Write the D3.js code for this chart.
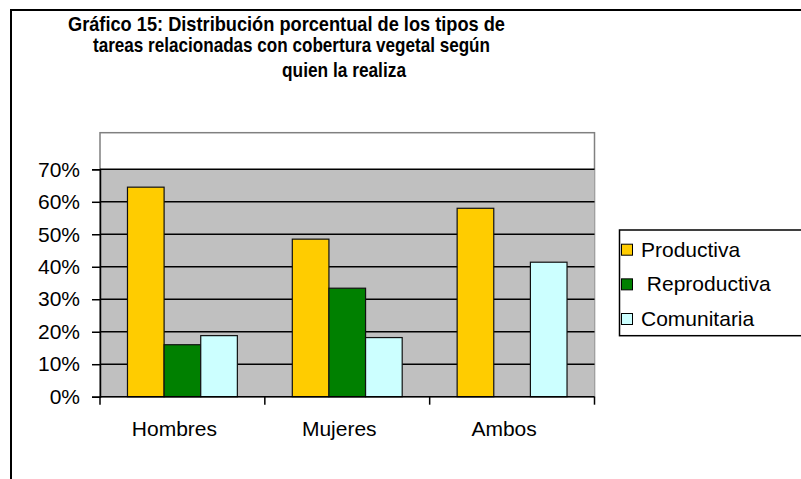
<!DOCTYPE html>
<html>
<head>
<meta charset="utf-8">
<script src="https://cdn.jsdelivr.net/npm/d3@7"></script>
<style>
  body { margin: 0; background: #fff; }
  svg { display: block; font-family: "Liberation Sans", Arial, sans-serif; }
</style>
</head>
<body>
<div id="chart"></div>
<script>
// data
const categories = ["Hombres", "Mujeres", "Ambos"];
const seriesNames = ["Productiva", " Reproductiva", "Comunitaria"];
const productiva = [0.645, 0.485, 0.58];
const reproductiva = [0.16, 0.334, 0];
const comunitaria = [0.188, 0.182, 0.414];
const yTicks = [0, 0.1, 0.2, 0.3, 0.4, 0.5, 0.6, 0.7];
const titleLines = [
  "Gráfico 15: Distribución porcentual de los tipos de",
  "tareas relacionadas con cobertura vegetal según",
  "quien la realiza"
];

const colors = ["#ffcc00", "#008000", "#ccffff"];
const series = [productiva, reproductiva, comunitaria];

const W = 801, H = 479;
let svg = d3.select("#chart").append("svg")
  .attr("width", W)
  .attr("height", H);

// outer frame (runs off the right and bottom edges)
svg.append("rect")
  .attr("x", 11).attr("y", 10)
  .attr("width", 900).attr("height", 600)
  .attr("fill", "#fff")
  .attr("stroke", "#000")
  .attr("stroke-width", 2);

// title, condensed bold; each line squeezed to the width seen in the picture
let titlePos = [
  {x: 68, y: 31, w: 437, anchor: "start"},
  {x: 93, y: 52, w: 397, anchor: "start"},
  {x: 344, y: 77, w: 124, anchor: "middle"}
];
titleLines.forEach(function(t, i) {
  svg.append("text")
    .attr("x", titlePos[i].x)
    .attr("y", titlePos[i].y)
    .attr("text-anchor", titlePos[i].anchor)
    .attr("font-size", 21)
    .attr("font-weight", "bold")
    .attr("textLength", titlePos[i].w)
    .attr("lengthAdjust", "spacingAndGlyphs")
    .text(t);
});

let plot = {left: 100, right: 594.5, top: 132.7, bottom: 396.7};

let y = d3.scaleLinear().domain([0, 0.7]).range([plot.bottom, 169.3]);
let x0 = d3.scaleBand().domain(categories).range([plot.left, plot.right]);
let x1 = d3.scaleBand().domain(d3.range(series.length))
  .range([0, x0.bandwidth()])
  .paddingOuter(0.75)
  .paddingInner(0);

// plot area box
svg.append("rect")
  .attr("x", plot.left).attr("y", plot.top)
  .attr("width", plot.right - plot.left)
  .attr("height", plot.bottom - plot.top)
  .attr("fill", "#fff")
  .attr("stroke", "#808080")
  .attr("stroke-width", 1.5);

// gray fill from 0 to the top tick
svg.append("rect")
  .attr("x", plot.left).attr("y", y(0.7))
  .attr("width", plot.right - plot.left)
  .attr("height", y(0) - y(0.7))
  .attr("fill", "#c0c0c0");

// gridlines
svg.append("g")
  .selectAll("line")
  .data(yTicks.slice(1))
  .join("line")
  .attr("x1", plot.left).attr("x2", plot.right)
  .attr("y1", function(d) { return y(d); })
  .attr("y2", function(d) { return y(d); })
  .attr("stroke", "#000")
  .attr("stroke-width", 1.5);

// bars
let groups = svg.append("g")
  .selectAll("g")
  .data(categories)
  .join("g")
  .attr("transform", function(d) { return "translate(" + x0(d) + ",0)"; });

groups.selectAll("rect")
  .data(function(d, ci) {
    return series.map(function(s, si) { return {si: si, v: s[ci]}; }).filter(function(e) { return e.v > 0; });
  })
  .join("rect")
  .attr("x", function(d) { return x1(d.si); })
  .attr("y", function(d) { return y(d.v); })
  .attr("width", x1.bandwidth())
  .attr("height", function(d) { return y(0) - y(d.v); })
  .attr("fill", function(d) { return colors[d.si]; })
  .attr("stroke", "#111")
  .attr("stroke-width", 1.2);

// y axis
let yAxis = d3.axisLeft(y)
  .tickValues(yTicks)
  .tickFormat(d3.format(".0%"))
  .tickSize(8)
  .tickPadding(12);

let gy = svg.append("g")
  .attr("transform", "translate(" + plot.left + ",0)")
  .call(yAxis);
gy.select(".domain").attr("stroke-width", 1.5);
gy.selectAll(".tick line").attr("stroke-width", 1.5);
gy.selectAll(".tick text")
  .attr("font-size", 21)
  .attr("font-family", "Liberation Sans, Arial, sans-serif")
  .attr("fill", "#000");

// x axis: ticks at category boundaries
let gx = svg.append("g")
  .attr("transform", "translate(0," + plot.bottom + ")");
gx.append("line")
  .attr("x1", plot.left).attr("x2", plot.right)
  .attr("stroke", "#000").attr("stroke-width", 1.5);
gx.selectAll("line.tk")
  .data(categories.concat(["end"]))
  .join("line")
  .attr("class", "tk")
  .attr("x1", function(d, i) { return i < categories.length ? x0(d) : plot.right; })
  .attr("x2", function(d, i) { return i < categories.length ? x0(d) : plot.right; })
  .attr("y1", 0).attr("y2", 8)
  .attr("stroke", "#000").attr("stroke-width", 1.5);
gx.selectAll("text")
  .data(categories)
  .join("text")
  .attr("x", function(d) { return x0(d) + x0.bandwidth() / 2 - 8; })
  .attr("y", 39)
  .attr("text-anchor", "middle")
  .attr("font-size", 21)
  .text(function(d) { return d; });

// legend (box runs off the right edge)
let legend = svg.append("g");
legend.append("rect")
  .attr("x", 619.5).attr("y", 230)
  .attr("width", 300).attr("height", 105.7)
  .attr("fill", "#fff")
  .attr("stroke", "#000")
  .attr("stroke-width", 1.5);

let rows = legend.selectAll("g")
  .data(seriesNames)
  .join("g")
  .attr("transform", function(d, i) { return "translate(0," + (256.7 + i * 34.65) + ")"; });
rows.append("rect")
  .attr("x", 621.5).attr("y", -12.5)
  .attr("width", 11).attr("height", 11)
  .attr("fill", function(d, i) { return colors[i]; })
  .attr("stroke", "#000")
  .attr("stroke-width", 1);
rows.append("text")
  .attr("x", 641)
  .attr("y", 0)
  .attr("font-size", 21)
  .style("white-space", "pre")
  .text(function(d) { return d; });
</script>
</body>
</html>
